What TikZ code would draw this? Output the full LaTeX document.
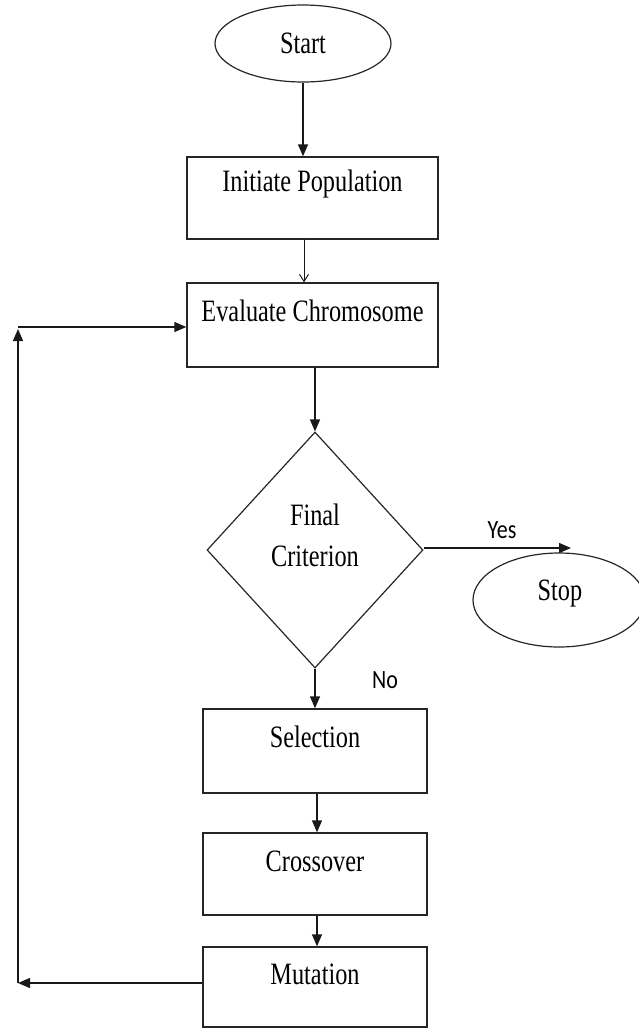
\documentclass[tikz,border=0pt]{standalone}
\usepackage{fontspec}
\usepackage{graphicx}
\setmainfont{Liberation Serif}
\newfontfamily\labfont{Carlito}
\usetikzlibrary{arrows.meta,shapes.geometric}
\newcommand{\vstr}[1]{\scalebox{1}[1.28]{#1}}
\tikzset{
  box/.style={draw=black!85, line width=1.4pt, rectangle, inner sep=0pt},
  oval/.style={draw=black!85, line width=1.2pt, ellipse, inner sep=0pt},
  txt/.style={inner sep=0pt, font=\fontsize{24.3}{28}\selectfont, text=black},
  lab/.style={inner sep=0pt, font=\labfont\fontsize{22}{26}\selectfont, text=black},
  arr/.style={draw=black!90, line width=1.4pt, -{Triangle[length=12pt,width=10pt]}},
  thinarr/.style={draw=black!90, line width=1pt, -{Straight Barb[length=7pt,width=9pt,line width=1pt]}}
}
\begin{document}
\begin{tikzpicture}[x=1pt,y=-1pt]
\useasboundingbox (0,0) rectangle (638,1028);
% shapes
\node[oval, minimum width=176pt, minimum height=77pt] (start) at (303,43.5) {};
\node[txt] at (start.center) {\vstr{Start}};
\node[box, minimum width=251pt, minimum height=82pt] (init) at (312.5,198) {};
\node[txt] at ([yshift=-28pt]init.north) {\vstr{Initiate Population}};
\node[box, minimum width=251pt, minimum height=84pt] (eval) at (312.5,325) {};
\node[txt] at ([yshift=-29pt]eval.north) {\vstr{Evaluate Chromosome}};
\node[draw=black!85, line width=1.2pt, diamond, inner sep=0pt, minimum width=216pt, minimum height=236pt] (dia) at (315,550) {};
\node[txt] at (315,515) {\vstr{Final}};
\node[txt] at (315,556) {\vstr{Criterion}};
\node[oval, minimum width=172pt, minimum height=94pt] (stop) at (559,600) {};
\node[txt] at (560,594) {\vstr{Stop}};
\node[box, minimum width=224pt, minimum height=84pt] (sel) at (315,751) {};
\node[txt] at ([yshift=-29pt]sel.north) {\vstr{Selection}};
\node[box, minimum width=224pt, minimum height=82pt] (cross) at (315,874) {};
\node[txt] at ([yshift=-29pt]cross.north) {\vstr{Crossover}};
\node[box, minimum width=224pt, minimum height=80pt] (mut) at (315,987) {};
\node[txt] at ([yshift=-28pt]mut.north) {\vstr{Mutation}};
% labels
\node[lab] (yes) at (502,530) {\scalebox{1}[1.2]{Yes}};
\node[lab] (no) at (385,680) {\scalebox{1}[1.2]{No}};
% coordinates
\coordinate (yesend) at (571,548);
\coordinate (fbl) at (18,983);
\coordinate (fbt) at (18,327);
% connectors
\draw[arr] (start.south) -- (start.south |- init.north);
\draw[thinarr] (init.south -| 304,0) -- (eval.north -| 304,0);
\draw[arr] (eval.south -| dia.north) -- (dia.north);
\draw[arr] (dia.east |- yesend) -- (yesend);
\draw[arr] (dia.south) -- (dia.south |- sel.north);
\draw[arr] (sel.south -| 317,0) -- (cross.north -| 317,0);
\draw[arr] (cross.south -| 317,0) -- (mut.north -| 317,0);
\draw[arr] (mut.west |- fbl) -- (fbl);
\draw[arr] (fbl) -- ([yshift=-2pt]fbt);
\draw[arr] (fbt) -- (eval.west |- fbt);
\end{tikzpicture}
\end{document}
